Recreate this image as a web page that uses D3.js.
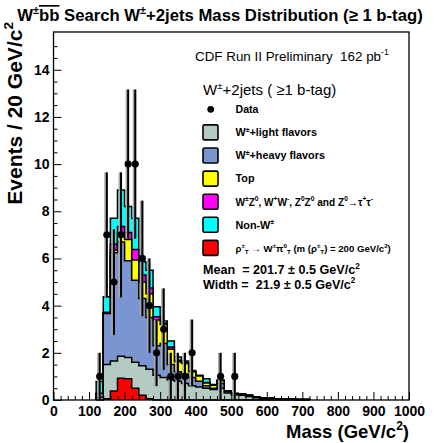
<!DOCTYPE html>
<html>
<head>
<meta charset="utf-8">
<script src="https://cdn.jsdelivr.net/npm/d3@7"></script>
<style>
body { margin: 0; background: #fff; }
svg { display: block; font-family: "Liberation Sans", Arial, sans-serif; }
svg text { white-space: pre; }
</style>
</head>
<body>
<script>
// bin centres (GeV/c^2), 20 GeV bins
var binCenters = [130, 150, 170, 190, 210, 230, 250, 270, 290, 310, 330, 350, 370, 390, 410,
                  430, 450, 470, 490, 510, 530, 550, 570, 590, 610, 630, 650, 670, 690, 710];

// background components (events per bin, not cumulative)
var lightFlavors = [0.12, 1.5, 1.65, 1.85, 1.8, 1.6, 1.45, 1.3, 1.05, 0.95, 0.85, 0.8, 0.7, 0.6, 0.55,
                    0.5, 0.45, 0.5, 0.3, 0.22, 0.2, 0.15, 0.1, 0.06, 0.05, 0.04, 0.03, 0.03, 0.02, 0.02];
var heavyFlavors = [0.16, 2.17, 4.59, 4.85, 4.1, 3.48, 2.85, 2.2, 1.25, 1.45, 0.65, 0.4, 0.4, 0.35, 0.25,
                    0.1, 0.05, 0.2, 0.06, 0.04, 0.03, 0.03, 0.02, 0.01, 0.01, 0.01, 0, 0, 0, 0];
var topQuark     = [0, 0.03, 0.12, 0.4, 0.9, 0.85, 0.7, 1.0, 1.09, 0.8, 0.65, 0.42, 0.45, 0.25, 0.22,
                    0.12, 0.13, 0.12, 0.03, 0.02, 0.02, 0.02, 0.01, 0.01, 0.01, 0, 0, 0, 0, 0];
var diboson      = [0, 0.02, 0.24, 0.25, 0.3, 0.45, 0.3, 0.25, 0.14, 0.05, 0.1, 0.06, 0.03, 0.02, 0.01,
                    0.02, 0.01, 0.01, 0, 0, 0, 0, 0, 0, 0, 0, 0, 0, 0, 0];
var nonW         = [0.5, 0.66, 1.1, 1.55, 1.1, 1.32, 0.56, 0.75, 0.42, 0.1, 0.25, 0.14, 0.07, 0.03, 0.02,
                    0.16, 0.02, 0.02, 0, 0, 0, 0, 0, 0, 0, 0, 0, 0, 0, 0];
// technicolor signal, drawn on its own from zero
var signal       = [0, 0.05, 0.38, 0.92, 0.9, 0.5, 0.2, 0.05, 0, 0, 0, 0, 0, 0, 0,
                    0, 0, 0, 0, 0, 0, 0, 0, 0, 0, 0, 0, 0, 0, 0];

// data points
var dataMass   = [130, 150, 170, 190, 210, 230, 250, 270, 290, 310, 330, 350, 370, 390, 470, 510];
var dataCounts = [1, 7, 5, 7, 10, 10, 6, 4, 2, 3, 1, 1, 1, 2, 1, 1];
var dataErr    = [1, 2.65, 2.24, 2.65, 3.16, 3.16, 2.45, 2, 1.41, 1.73, 1, 1, 1, 1.41, 1, 1];

var stackKeys   = ['light', 'heavy', 'top', 'diboson', 'nonW'];
var stackColors = ['#b4cbc4', '#7b95d0', '#ffff00', '#ff00ff', '#00ffff'];
var signalColor = '#ff0000';

var xTicks = [0, 100, 200, 300, 400, 500, 600, 700, 800, 900, 1000];
var yTicks = [0, 2, 4, 6, 8, 10, 12, 14];

var W = 443, H = 443;
var binWidth = 20;

var svg = d3.select('body').append('svg')
    .attr('width', W)
    .attr('height', H)

var x = d3.scaleLinear().domain([0, 1000]).range([53.5, 409])
var y = d3.scaleLinear().domain([0, 15.6]).range([400, 32])

// small helper for text with super/subscripts
function rich(sel, parts, size){
    var off = 0;
    parts.forEach(function(p){
        var want = 0, fs = size;
        if (p[1] == 'sup'){ want = -0.42 * size; fs = size * 0.65 }
        if (p[1] == 'sub'){ want = 0.25 * size; fs = size * 0.65 }
        var t = sel.append('tspan').text(p[0]).attr('font-size', fs).attr('dy', want - off)
        if (p[2]) t.style('text-decoration', p[2])
        off = want;
    })
}

// stacked histogram
var table = binCenters.map(function(c, i){
    return {m: c, light: lightFlavors[i], heavy: heavyFlavors[i], top: topQuark[i],
            diboson: diboson[i], nonW: nonW[i]}
})
var series = d3.stack().keys(stackKeys)(table)

function stepPoints(vals){
    var pts = [[binCenters[0] - binWidth/2, 0]];
    binCenters.forEach(function(c, i){
        pts.push([c - binWidth/2, vals[i]]);
        pts.push([c + binWidth/2, vals[i]]);
    })
    pts.push([binCenters[binCenters.length-1] + binWidth/2, 0]);
    return pts
}

var area = d3.area().x(d=>x(d[0])).y0(y(0)).y1(d=>y(d[1]))
var line = d3.line().x(d=>x(d[0])).y(d=>y(d[1]))

var histG = svg.append('g')
for (var k = series.length - 1; k >= 0; k--){
    var pts = stepPoints(series[k].map(d=>d[1]))
    histG.append('path').attr('d', area(pts)).attr('fill', stackColors[k])
    histG.append('path').attr('d', line(pts))
        .attr('fill', 'none').attr('stroke', '#000').attr('stroke-width', 1.5)
}
var sigPts = stepPoints(signal)
histG.append('path').attr('d', area(sigPts)).attr('fill', signalColor)
histG.append('path').attr('d', line(sigPts))
    .attr('fill', 'none').attr('stroke', '#000').attr('stroke-width', 1.5)

// data with error bars
var dataG = svg.append('g')
dataMass.forEach(function(m, i){
    var lo = Math.max(0, dataCounts[i] - dataErr[i]), hi = dataCounts[i] + dataErr[i];
    dataG.append('line').attr('x1', x(m) - 0.8).attr('x2', x(m) - 0.8)
        .attr('y1', y(lo)).attr('y2', y(hi)).attr('stroke', '#aaa').attr('stroke-width', 3.5)
    dataG.append('line').attr('x1', x(m)).attr('x2', x(m))
        .attr('y1', y(lo)).attr('y2', y(hi)).attr('stroke', '#000').attr('stroke-width', 2)
    dataG.append('circle').attr('cx', x(m)).attr('cy', y(dataCounts[i])).attr('r', 3.6).attr('fill', '#000')
})

// axes, ticks inside the frame
svg.append('g').attr('transform', 'translate(0,' + y(0) + ')')
    .call(d3.axisBottom(x).tickValues(xTicks).tickSizeInner(-8).tickSizeOuter(0).tickPadding(6).tickFormat(d=>d))
svg.append('g').attr('transform', 'translate(0,' + y(0) + ')')
    .call(d3.axisBottom(x).tickValues(d3.range(0, 1001, 20).filter(d=>d % 100)).tickSizeInner(-4).tickSizeOuter(0).tickFormat(''))
svg.append('g').attr('transform', 'translate(' + x(0) + ',0)')
    .call(d3.axisLeft(y).tickValues(yTicks).tickSizeInner(-8).tickSizeOuter(0).tickPadding(4))
svg.append('g').attr('transform', 'translate(' + x(0) + ',0)')
    .call(d3.axisLeft(y).tickValues(d3.range(0, 15.5, 0.5).filter(d=>d % 2)).tickSizeInner(-4).tickSizeOuter(0).tickFormat(''))

svg.selectAll('.domain').remove()
svg.selectAll('.tick line').attr('stroke', '#000').attr('stroke-width', 1)
svg.selectAll('.tick text').attr('font-family', '"Liberation Sans", Arial, sans-serif')
    .attr('font-size', 14).attr('font-weight', 'bold').attr('fill', '#000')

// frame
svg.append('rect')
    .attr('x', x(0)).attr('y', y(15.6))
    .attr('width', x(1000) - x(0)).attr('height', y(0) - y(15.6))
    .attr('fill', 'none').attr('stroke', '#000').attr('stroke-width', 1.3)

// title
var title = svg.append('text').attr('x', 220).attr('y', 21).attr('text-anchor', 'middle')
    .attr('font-weight', 'bold')
rich(title, [['W'], ['\u00b1', 'sup'], ['b', null, 'overline'], ['b', null, 'overline'], [' Search W'], ['\u00b1', 'sup'],
             ['+2jets Mass Distribution (\u2265 1 b-tag)']], 16.7)

// axis titles
var xt = svg.append('text').attr('x', 409).attr('y', 438).attr('text-anchor', 'end').attr('font-weight', 'bold')
rich(xt, [['Mass (GeV/c'], ['2', 'sup'], [')']], 18.5)
var yt = svg.append('text').attr('transform', 'translate(21.5,22) rotate(-90)')
    .attr('text-anchor', 'end').attr('font-weight', 'bold')
rich(yt, [['Events / 20 GeV/c'], ['2', 'sup']], 21)

// legend
var lt = svg.append('text').attr('x', 195).attr('y', 61)
rich(lt, [['CDF Run II Preliminary  162 pb'], ['-1', 'sup']], 13.4)
var lh = svg.append('text').attr('x', 203).attr('y', 95)
rich(lh, [['W'], ['\u00b1', 'sup'], ['+2jets ( \u22651 b-tag)']], 15)

var legendRows = [
    [['Data']],
    [['W'], ['\u00b1', 'sup'], ['+light flavors']],
    [['W'], ['\u00b1', 'sup'], ['+heavy flavors']],
    [['Top']],
    [['W'], ['\u00b1', 'sup'], ['Z'], ['0', 'sup'], [', W'], ['+', 'sup'], ['W'], ['-', 'sup'], [', Z'], ['0', 'sup'],
     ['Z'], ['0', 'sup'], [' and Z'], ['0', 'sup'], ['\u2192\u03c4'], ['+', 'sup'], ['\u03c4'], ['-', 'sup']],
    [['Non-W'], ['\u00b1', 'sup']],
    [['\u03c1'], ['\u00b1', 'sup'], ['T', 'sub'], [' \u2192 W'], ['\u00b1', 'sup'], ['\u03c0'], ['0', 'sup'], ['T', 'sub'],
     [' (m (\u03c1'], ['\u00b1', 'sup'], ['T', 'sub'], [') = 200 GeV/c'], ['2', 'sup'], [')']]
]
var legendSizes  = [10.6, 10.8, 10.8, 10.8, 10.1, 10.8, 9.6];
var legendColors = [null, stackColors[0], stackColors[1], stackColors[2], stackColors[3], stackColors[4], signalColor]
var legY0 = 109.3, legDy = 23.1;
var legG = svg.append('g')
legendRows.forEach(function(row, i){
    var cy = legY0 + i * legDy;
    if (legendColors[i]){
        legG.append('rect').attr('x', 203).attr('y', cy - 7.5).attr('width', 15).attr('height', 15)
            .attr('rx', 1.5).attr('fill', legendColors[i]).attr('stroke', '#000').attr('stroke-width', 1.6)
    } else {
        legG.append('circle').attr('cx', 210.7).attr('cy', cy).attr('r', 3.4).attr('fill', '#000')
    }
    var t = legG.append('text').attr('x', 235.5).attr('y', cy + 3.8).attr('font-weight', 'bold')
    rich(t, row, legendSizes[i])
})

var m1 = svg.append('text').attr('x', 203).attr('y', 274).attr('font-weight', 'bold')
rich(m1, [['Mean  = 201.7 \u00b1 0.5 GeV/c'], ['2', 'sup']], 12.6)
var m2 = svg.append('text').attr('x', 203).attr('y', 288.5).attr('font-weight', 'bold')
rich(m2, [['Width =  21.9 \u00b1 0.5 GeV/c'], ['2', 'sup']], 12.6)
</script>
</body>
</html>
